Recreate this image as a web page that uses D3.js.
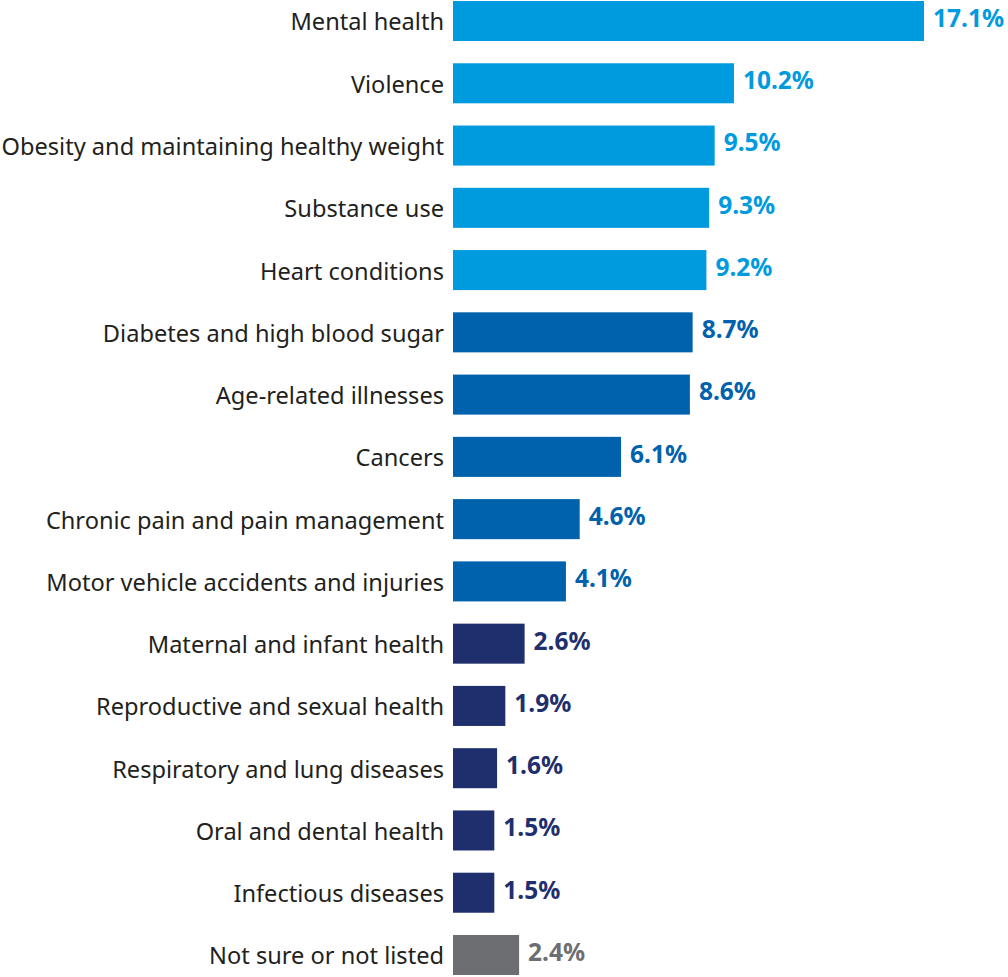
<!DOCTYPE html>
<html lang="en">
<head>
	<meta charset="utf-8">
	<title>Health topics bar chart</title>
	<script src="https://d3js.org/d3.v7.min.js"></script>
	<style>
		body { margin: 0; background: #fff; }
		svg { display: block; }
	</style>
</head>
<body>
	<div class="chart"></div>
	<script>
		// data
		var topics = [
			"Mental health", "Violence", "Obesity and maintaining healthy weight",
			"Substance use", "Heart conditions", "Diabetes and high blood sugar",
			"Age-related illnesses", "Cancers", "Chronic pain and pain management",
			"Motor vehicle accidents and injuries", "Maternal and infant health",
			"Reproductive and sexual health", "Respiratory and lung diseases",
			"Oral and dental health", "Infectious diseases", "Not sure or not listed"
		];
		var shares = [17.1, 10.2, 9.5, 9.3, 9.2, 8.7, 8.6, 6.1, 4.6, 4.1, 2.6, 1.9, 1.6, 1.5, 1.5, 2.4];
		// colour group of each bar
		var groups = ["top", "top", "top", "top", "top", "mid", "mid", "mid", "mid", "mid",
			"low", "low", "low", "low", "low", "none"];

		var rows = topics.map(function(t, i) {
			return { name: t, value: shares[i], group: groups[i] };
		});

		var width = 1008, height = 977;
		var left = 453;

		var color = d3.scaleOrdinal()
			.domain(["top", "mid", "low", "none"])
			.range(["#009ade", "#0061ad", "#1f2f6e", "#6d6e71"]);

		var x = d3.scaleLinear()
			.domain([0, 17.1])
			.range([left, 924]);

		var y = d3.scaleBand()
			.domain(topics)
			.range([1, 975])
			.paddingInner(0.357)
			.paddingOuter(0);

		var svg = d3.select(".chart")
			.append("svg")
			.attr("width", width)
			.attr("height", height)
			.style("font-family", "'Noto Sans', sans-serif");

		var row = svg.selectAll(".row")
			.data(rows)
			.enter()
			.append("g")
			.attr("class", "row");

		row.append("rect")
			.attr("x", x(0))
			.attr("y", function(d) { return y(d.name); })
			.attr("width", function(d) { return x(d.value) - x(0); })
			.attr("height", y.bandwidth())
			.attr("fill", function(d) { return color(d.group); });

		// category names, right aligned against the bars
		row.append("text")
			.attr("x", left - 9)
			.attr("y", function(d) { return y(d.name) + y.bandwidth() / 2; })
			.attr("dy", "0.4em")
			.attr("text-anchor", "end")
			.attr("font-size", 23.6)
			.attr("fill", "#231f20")
			.text(function(d) { return d.name; });

		// value labels sit a little above the bar centre
		row.append("text")
			.attr("x", function(d) { return x(d.value) + 9; })
			.attr("y", function(d) { return y(d.name) + y.bandwidth() / 2; })
			.attr("dy", "0.24em")
			.attr("font-size", 24.5)
			.attr("font-weight", "bold")
			.attr("fill", function(d) { return color(d.group); })
			.text(function(d) { return d.value.toFixed(1) + "%"; });
	</script>
</body>
</html>
